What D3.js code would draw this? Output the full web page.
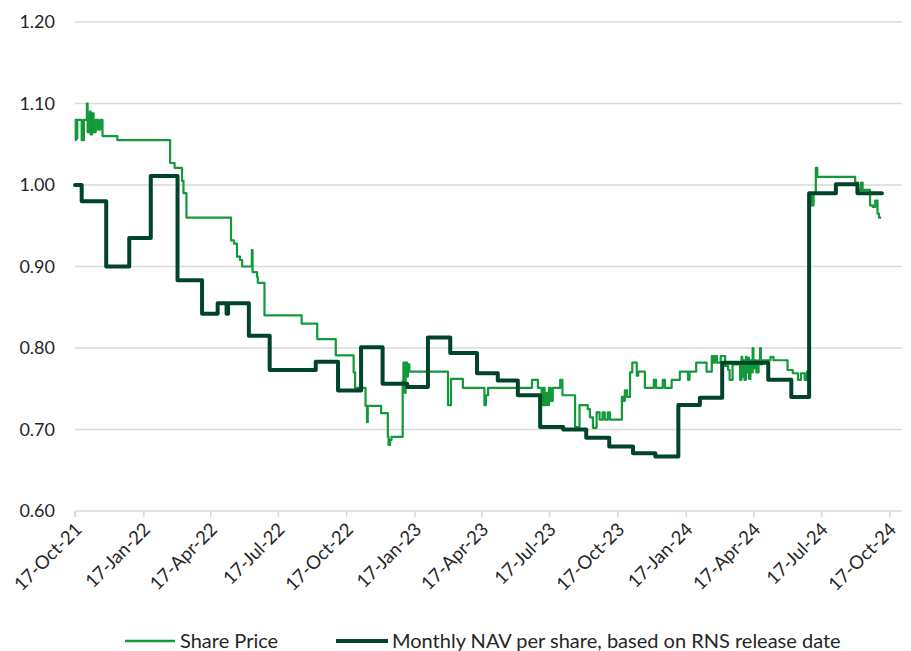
<!DOCTYPE html>
<html>
<head>
<meta charset="utf-8">
<script src="https://cdn.jsdelivr.net/npm/d3@7"></script>
<style>
  html, body { margin: 0; padding: 0; background: #fff; }
  svg { display: block; font-family: Lato, "Open Sans", sans-serif; }
</style>
</head>
<body>
<svg id="chart" width="911" height="651"></svg>
<script>
// ---------- DATA ----------
const seriesNames = ["Share Price", "Monthly NAV per share, based on RNS release date"];

const yTickValues = [0.60, 0.70, 0.80, 0.90, 1.00, 1.10, 1.20];

const xTickDates = ["2021-10-17","2022-01-17","2022-04-17","2022-07-17","2022-10-17",
  "2023-01-17","2023-04-17","2023-07-17","2023-10-17","2024-01-17","2024-04-17",
  "2024-07-17","2024-10-17"];

const sharePrice = [
  ["2021-10-17",1.055],["2021-10-18",1.080],["2021-10-19",1.057],["2021-10-20",1.080],
  ["2021-10-26",1.055],["2021-10-29",1.080],["2021-11-02",1.100],["2021-11-03",1.065],
  ["2021-11-06",1.090],["2021-11-07",1.062],["2021-11-09",1.088],["2021-11-11",1.065],
  ["2021-11-14",1.080],["2021-11-17",1.068],["2021-11-20",1.080],["2021-11-23",1.060],
  ["2021-12-13",1.055],["2022-02-22",1.027],["2022-02-28",1.021],["2022-03-10",1.005],
  ["2022-03-12",0.990],["2022-03-16",0.960],["2022-05-15",0.932],["2022-05-19",0.928],
  ["2022-05-23",0.912],["2022-05-27",0.908],["2022-05-30",0.900],["2022-06-12",0.920],
  ["2022-06-13",0.893],["2022-06-19",0.887],["2022-06-20",0.880],["2022-06-29",0.840],
  ["2022-08-18",0.830],["2022-09-08",0.811],["2022-10-03",0.791],["2022-10-27",0.770],
  ["2022-10-29",0.751],["2022-11-12",0.729],["2022-11-14",0.709],["2022-11-15",0.729],
  ["2022-12-03",0.720],["2022-12-12",0.691],["2022-12-13",0.681],["2022-12-15",0.687],
  ["2022-12-17",0.691],["2023-01-01",0.760],["2023-01-02",0.782],["2023-01-04",0.745],
  ["2023-01-05",0.782],["2023-01-07",0.765],["2023-01-08",0.780],["2023-01-10",0.771],
  ["2023-03-03",0.730],["2023-03-07",0.762],["2023-03-23",0.751],["2023-04-21",0.730],
  ["2023-04-23",0.742],["2023-04-26",0.751],["2023-06-24",0.761],["2023-07-02",0.751],
  ["2023-07-07",0.730],["2023-07-09",0.751],["2023-07-11",0.730],["2023-07-13",0.745],
  ["2023-07-15",0.730],["2023-07-17",0.751],["2023-07-19",0.735],["2023-07-22",0.751],
  ["2023-08-01",0.761],["2023-08-04",0.742],["2023-08-21",0.703],["2023-08-27",0.730],
  ["2023-09-07",0.725],["2023-09-10",0.715],["2023-09-14",0.702],["2023-09-19",0.721],
  ["2023-09-23",0.712],["2023-09-27",0.721],["2023-09-30",0.712],["2023-10-04",0.721],
  ["2023-10-07",0.712],["2023-10-23",0.740],["2023-10-25",0.735],["2023-10-27",0.748],
  ["2023-10-30",0.740],["2023-11-03",0.770],["2023-11-06",0.782],["2023-11-12",0.766],
  ["2023-11-14",0.771],["2023-11-23",0.751],["2023-12-05",0.761],["2023-12-08",0.751],
  ["2023-12-17",0.761],["2023-12-20",0.751],["2023-12-29",0.761],["2024-01-09",0.771],
  ["2024-01-20",0.761],["2024-01-22",0.771],["2024-01-31",0.782],["2024-02-14",0.771],
  ["2024-02-21",0.790],["2024-02-23",0.782],["2024-02-25",0.790],["2024-02-28",0.782],
  ["2024-03-04",0.790],["2024-03-10",0.778],["2024-03-14",0.773],["2024-03-16",0.761],
  ["2024-03-20",0.780],["2024-03-30",0.761],["2024-04-01",0.789],["2024-04-02",0.765],
  ["2024-04-04",0.785],["2024-04-05",0.761],["2024-04-07",0.789],["2024-04-08",0.770],
  ["2024-04-10",0.788],["2024-04-11",0.762],["2024-04-13",0.785],["2024-04-14",0.770],
  ["2024-04-16",0.800],["2024-04-17",0.775],["2024-04-19",0.785],["2024-04-21",0.770],
  ["2024-04-24",0.785],["2024-04-26",0.800],["2024-04-27",0.780],["2024-04-29",0.785],
  ["2024-05-10",0.789],["2024-05-14",0.785],["2024-06-02",0.773],["2024-06-09",0.769],
  ["2024-06-16",0.761],["2024-06-20",0.769],["2024-06-25",0.761],["2024-06-28",0.771],
  ["2024-07-01",0.990],["2024-07-04",0.975],["2024-07-07",0.990],["2024-07-10",1.021],
  ["2024-07-12",1.010],["2024-09-01",1.003],["2024-09-05",0.994],["2024-09-09",1.003],
  ["2024-09-11",0.994],["2024-09-21",0.975],["2024-09-25",0.973],["2024-09-28",0.981],
  ["2024-10-01",0.965],["2024-10-03",0.960],["2024-10-06",0.960]
];

const navPerShare = [
  ["2021-10-17",1.000],["2021-10-26",0.980],["2021-11-28",0.900],["2021-12-29",0.935],
  ["2022-01-27",1.011],["2022-03-04",0.883],["2022-04-06",0.842],["2022-04-27",0.855],
  ["2022-05-09",0.842],["2022-05-11",0.855],["2022-06-08",0.815],["2022-07-06",0.773],
  ["2022-09-06",0.783],["2022-10-06",0.748],["2022-11-06",0.801],["2022-12-05",0.756],
  ["2023-01-07",0.752],["2023-02-04",0.813],["2023-03-06",0.794],["2023-04-11",0.769],
  ["2023-05-09",0.760],["2023-06-05",0.742],["2023-07-05",0.703],["2023-08-05",0.700],
  ["2023-09-05",0.690],["2023-10-06",0.679],["2023-11-07",0.671],["2023-12-07",0.667],
  ["2024-01-07",0.730],["2024-02-05",0.739],["2024-03-06",0.782],["2024-05-07",0.761],
  ["2024-06-07",0.740],["2024-07-01",0.990],["2024-08-06",1.001],["2024-09-04",0.990],
  ["2024-10-07",0.990]
];

// ---------- CHART ----------
const parse = d3.timeParse("%Y-%m-%d");
const fmtDate = d3.timeFormat("%d-%b-%y");
const colors = { sp: "#12993a", nav: "#00452b" };

const svg = d3.select("#chart");
const plotLeft = 75, plotRight = 902, plotTop = 22, plotBottom = 511;

const x = d3.scaleTime()
  .domain([parse("2021-10-17"), parse("2024-11-03")])
  .range([plotLeft, plotRight]);
const y = d3.scaleLinear().domain([0.6, 1.2]).range([plotBottom, plotTop]);

// gridlines
svg.append("g").selectAll("line")
  .data(yTickValues.filter(v => v > 0.6))
  .join("line")
  .attr("x1", plotLeft).attr("x2", plotRight)
  .attr("y1", d => y(d)).attr("y2", d => y(d))
  .attr("stroke", "#d9d9d9").attr("stroke-width", 1.5);

// y labels
const yAxis = d3.axisLeft(y).tickValues(yTickValues).tickFormat(d3.format(".2f")).tickSize(0).tickPadding(0);
const gy = svg.append("g").attr("transform", `translate(${plotLeft - 20},0)`).call(yAxis);
gy.select(".domain").remove();
gy.selectAll("text").attr("font-size", 18).attr("fill", "#262626")
  .attr("font-family", "Lato, 'Open Sans', sans-serif");

// x axis
const xAxis = d3.axisBottom(x).tickValues(xTickDates.map(parse)).tickSize(6).tickFormat("");
const gx = svg.append("g").attr("transform", `translate(0,${plotBottom})`).call(xAxis);
gx.select(".domain").attr("stroke", "#d9d9d9").attr("stroke-width", 1.5)
  .attr("d", `M${plotLeft},6V0H${plotRight}`);
gx.selectAll(".tick line").attr("stroke", "#d9d9d9").attr("stroke-width", 1.5);
gx.selectAll(".tick").append("text")
  .attr("transform", "translate(3,15) rotate(-45)")
  .attr("text-anchor", "end")
  .attr("dy", "0.35em")
  .attr("font-size", 18.5)
  .attr("fill", "#262626")
  .attr("font-family", "Lato, 'Open Sans', sans-serif")
  .text(d => fmtDate(d));

// lines
const line = d3.line()
  .x(d => x(parse(d[0])))
  .y(d => y(d[1]))
  .curve(d3.curveStepAfter);

svg.append("path").datum(sharePrice)
  .attr("fill", "none").attr("stroke", colors.sp).attr("stroke-width", 2.2)
  .attr("stroke-linejoin", "round").attr("d", line);

svg.append("path").datum(navPerShare)
  .attr("fill", "none").attr("stroke", colors.nav).attr("stroke-width", 4)
  .attr("stroke-linejoin", "round").attr("stroke-linecap", "round").attr("d", line);

// legend
const legend = [
  { name: seriesNames[0], color: colors.sp, w: 2.5, x1: 125, x2: 175, tx: 180 },
  { name: seriesNames[1], color: colors.nav, w: 4, x1: 336, x2: 388, tx: 392 }
];
const lg = svg.append("g");
legend.forEach(l => {
  lg.append("line").attr("x1", l.x1).attr("x2", l.x2).attr("y1", 641).attr("y2", 641)
    .attr("stroke", l.color).attr("stroke-width", l.w);
  lg.append("text").attr("x", l.tx).attr("y", 641).attr("dy", "0.35em")
    .attr("font-size", 20).attr("fill", "#262626").text(l.name);
});
</script>
</body>
</html>
